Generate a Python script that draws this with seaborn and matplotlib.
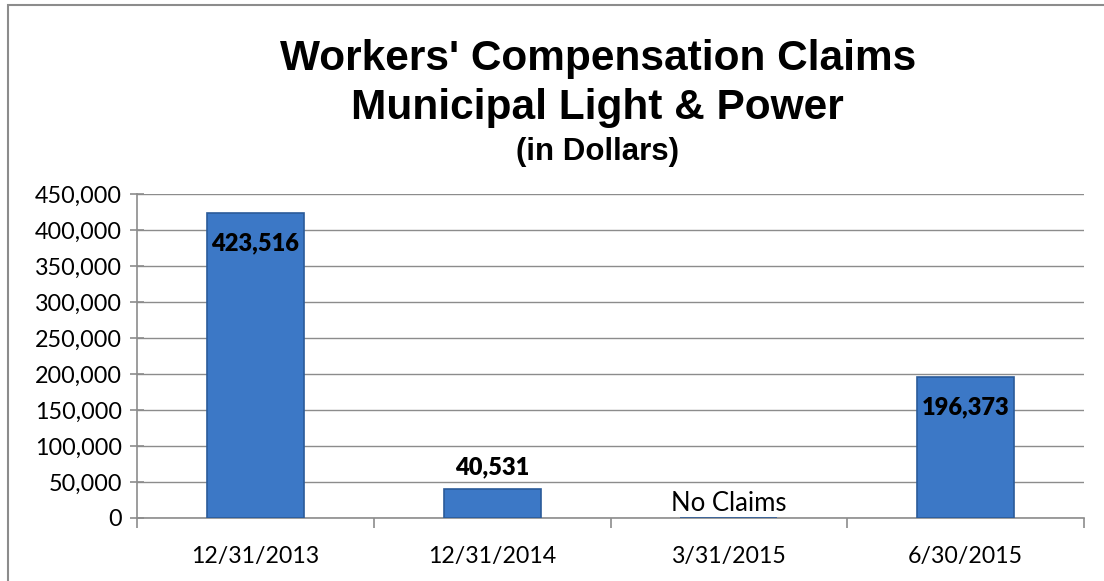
import matplotlib
matplotlib.use("Agg")
import matplotlib.pyplot as plt
import seaborn as sns
import pandas as pd
from matplotlib.patches import Rectangle
from matplotlib.ticker import FuncFormatter, FixedLocator

# chart data
periods = ['12/31/2013', '12/31/2014', '3/31/2015', '6/30/2015']
claims = [423516, 40531, 0, 196373]
title_lines = ["Workers' Compensation Claims", "Municipal Light & Power"]
subtitle = "(in Dollars)"
no_claims_text = "No Claims"

df = pd.DataFrame({'Period': periods, 'Claims': claims})

sns.set_style("white")
plt.rcParams['font.family'] = ['Lato', 'DejaVu Sans']
plt.rcParams['text.color'] = 'black'
plt.rcParams['xtick.color'] = 'black'
plt.rcParams['ytick.color'] = 'black'

fig = plt.figure(figsize=(11.04, 5.81), dpi=100)
ax = fig.add_axes([137 / 1104, 1 - 518 / 581, (1084 - 137) / 1104, (518 - 194) / 581])

sns.barplot(data=df, x='Period', y='Claims', ax=ax, color='#3C78C6',
            width=0.41, edgecolor='#2B5B99', linewidth=1.2, saturation=1, zorder=3)

ax.set_ylim(0, 450000)
ax.set_xlim(-0.5, len(periods) - 0.5)
ax.yaxis.set_major_locator(FixedLocator(range(0, 450001, 50000)))
ax.yaxis.set_major_formatter(FuncFormatter(lambda v, p: f'{int(v):,}'))
ax.grid(axis='y', color='#8C8C8C', linewidth=1, zorder=0)
ax.set_axisbelow(True)
ax.set_xlabel('')
ax.set_ylabel('')

for side in ['top', 'right']:
    ax.spines[side].set_visible(False)
for side in ['left', 'bottom']:
    ax.spines[side].set_color('#8C8C8C')
    ax.spines[side].set_linewidth(1.2)

# y ticks cross the axis, x ticks sit between categories
ax.tick_params(axis='y', which='major', direction='inout', length=10, width=1.2,
               color='#8C8C8C', labelcolor='black', labelsize=16.8, pad=6, left=True)
ax.tick_params(axis='x', which='major', length=0, labelsize=16.7, labelcolor='black',
               pad=20, bottom=True)
ax.set_xticks(range(len(periods)), minor=False)
ax.set_xticks([i + 0.5 for i in range(-1, len(periods))], minor=True)
ax.tick_params(axis='x', which='minor', direction='out', length=7, width=1.2,
               color='#8C8C8C', bottom=True)

# data labels
for i, v in enumerate(claims):
    if v == 0:
        ax.text(i, 20000, no_claims_text, ha='center', va='center', fontsize=18.5)
    elif v > 100000:
        ax.text(i, v - 42000, f'{v:,}', ha='center', va='center',
                fontsize=17, fontweight='heavy', zorder=5)
    else:
        ax.text(i, v + 30000, f'{v:,}', ha='center', va='center',
                fontsize=17, fontweight='heavy', zorder=5)

# titles
fig.text(0.5415, 1 - 70 / 581, title_lines[0], ha='center', va='baseline',
         fontsize=30.5, fontweight='bold', family='Liberation Sans')
fig.text(0.5415, 1 - 119 / 581, title_lines[1], ha='center', va='baseline',
         fontsize=30.5, fontweight='bold', family='Liberation Sans')
fig.text(0.5415, 1 - 160 / 581, subtitle, ha='center', va='baseline',
         fontsize=22.5, fontweight='bold', family='Liberation Sans')

# chart border
fig.patches.append(Rectangle((8 / 1104, -0.05), 1.1, 1 - 5 / 581 + 0.05,
                             transform=fig.transFigure, fill=False,
                             edgecolor='#8C8C8C', linewidth=1.5))

fig.savefig('out.png', dpi=100)
